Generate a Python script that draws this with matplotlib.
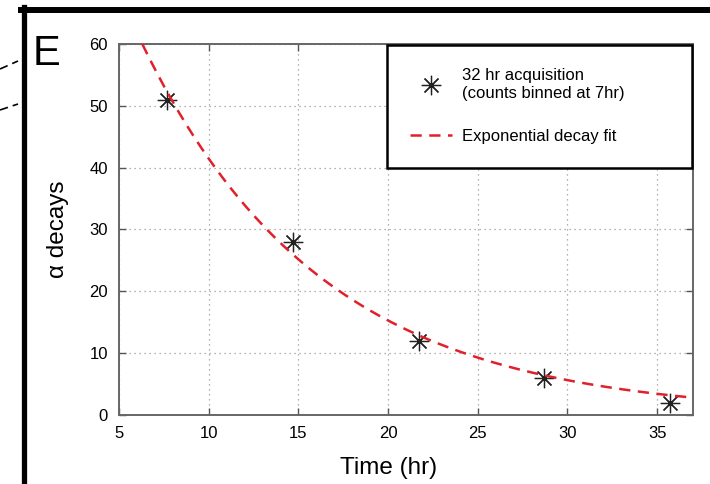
"""Alpha decay counts over a 32 hr acquisition, with exponential decay fit (panel E)."""
import numpy as np
import matplotlib.pyplot as plt
from matplotlib.lines import Line2D

plt.rcParams['font.family'] = ['Liberation Sans', 'DejaVu Sans']

# measured counts (binned at 7 hr)
time_hr = [7.7, 14.7, 21.7, 28.7, 35.7]
decays = [51, 28, 12, 6, 2]

# exponential fit parameters: N(t) = A * exp(-k t)
fit_A = 112.5
fit_k = 0.0998
fit_range = [6.3, 37.0]

xticks = [5, 10, 15, 20, 25, 30, 35]
yticks = [0, 10, 20, 30, 40, 50, 60]

fig = plt.figure(figsize=(7.1, 4.84), dpi=100)
ax = fig.add_axes([0.1676, 0.1426, 0.8084, 0.7665])

t_fit = np.linspace(fit_range[0], fit_range[1], 300)
n_fit = fit_A * np.exp(-fit_k * t_fit)

ax.plot(time_hr, decays, linestyle='none', marker=(8, 2, 0), markersize=14,
        markeredgewidth=0.9, color='#222222', zorder=3,
        label='32 hr acquisition\n(counts binned at 7hr)')
ax.plot(t_fit, n_fit, color='#e0202a', lw=1.8, dashes=(4.5, 3), zorder=4,
        label='Exponential decay fit')

ax.set_xlim(5, 37)
ax.set_ylim(0, 60)
ax.set_xticks(xticks)
ax.set_yticks(yticks)
ax.tick_params(direction='in', top=True, right=True, labelsize=12,
               length=5, width=1, color='#555555', pad=8)
for s in ax.spines.values():
    s.set_color('#666666')
    s.set_linewidth(1.4)
ax.grid(True, linestyle=(0, (1, 3)), color='#999999', lw=0.9)
ax.set_axisbelow(True)

ax.set_xlabel('Time (hr)', fontsize=17.5)
ax.xaxis.set_label_coords(0.469, -0.112)
ax.set_ylabel('α decays', fontsize=17.5)
ax.yaxis.set_label_coords(-0.087, 0.5)

leg = ax.legend(loc='upper left', bbox_to_anchor=(0.4669, 0.0, 0.5314, 0.997),
                mode='expand', fontsize=12, frameon=True, fancybox=False,
                framealpha=1, edgecolor='black', borderpad=1.4,
                labelspacing=1.7, handlelength=2.5, handletextpad=0.6,
                borderaxespad=0.0)
leg.get_frame().set_linewidth(1.8)

# panel letter and figure border
fig.text(0.0465, 1 - 65 / 484, 'E', fontsize=30, va='baseline', ha='left')
fig.add_artist(Line2D([21 / 710, 1.0], [1 - 10 / 484, 1 - 10 / 484],
                      color='black', lw=4.3, transform=fig.transFigure))
fig.add_artist(Line2D([23.5 / 710, 23.5 / 710], [0.0, 1 - 7 / 484],
                      color='black', lw=3.8, transform=fig.transFigure))
# stubs from neighbouring panel
for y0, y1 in [(69, 61), (110, 104)]:
    fig.add_artist(Line2D([0, 18 / 710], [1 - y0 / 484, 1 - y1 / 484],
                          color='black', lw=1.2, dashes=(5, 3),
                          transform=fig.transFigure))

fig.savefig('out.png', dpi=100)
